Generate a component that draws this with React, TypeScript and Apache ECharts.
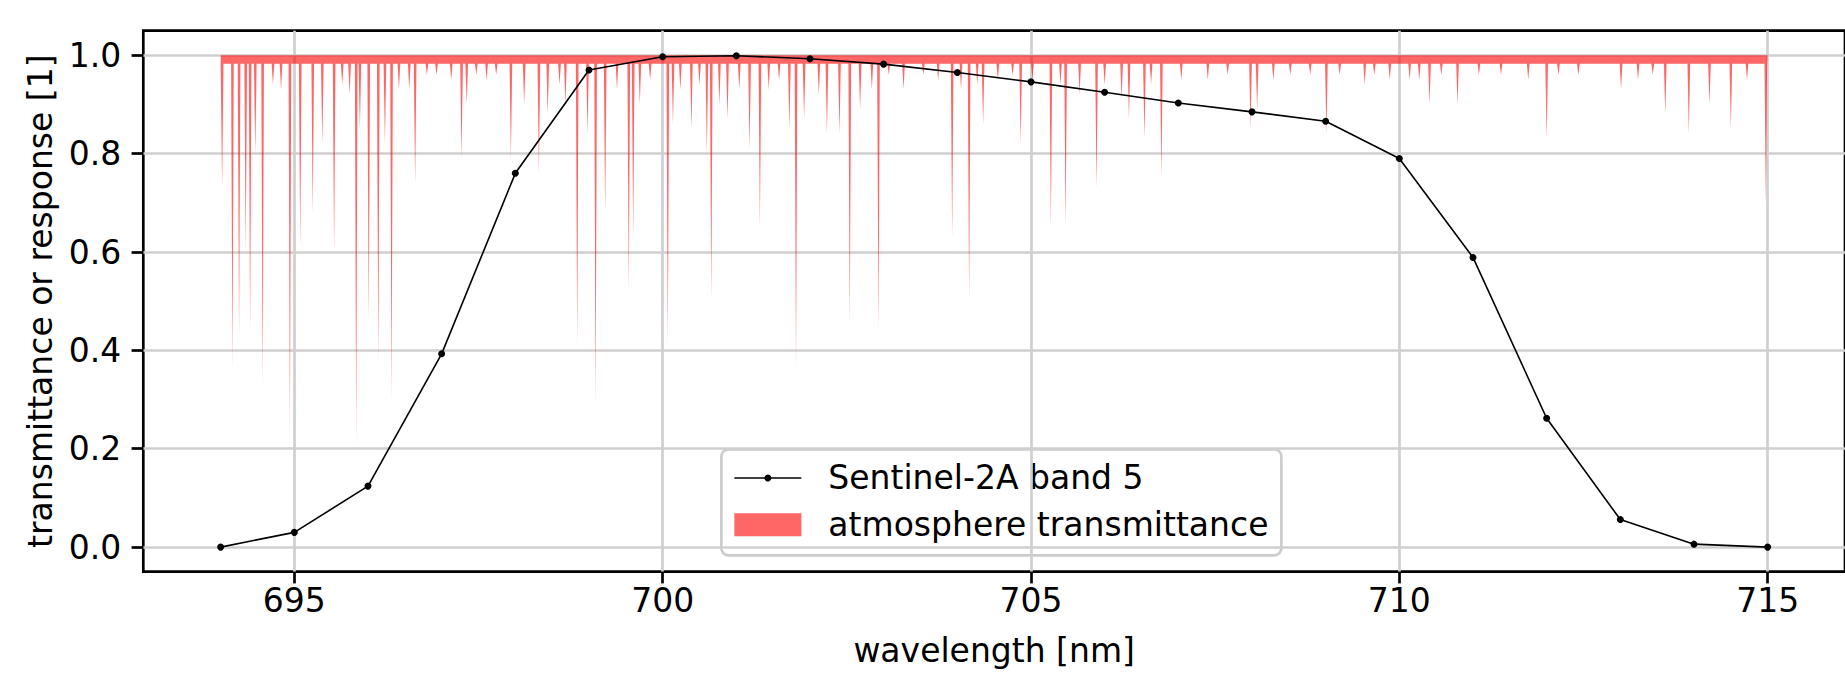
import React, { useEffect, useRef } from "react";
import * as echarts from "echarts";

// Sentinel-2A band 5 spectral response (sampled at 1 nm)
const bandWavelengths = [694, 695, 696, 697, 698, 699, 700, 701, 702, 703, 704, 705, 706, 707, 708, 709, 710, 711, 712, 713, 714, 715];
const bandResponse = [0.0, 0.03, 0.124, 0.393, 0.76, 0.97, 0.997, 0.999, 0.993, 0.982, 0.965, 0.946, 0.925, 0.903, 0.885, 0.866, 0.79, 0.589, 0.262, 0.056, 0.006, 0.0];

// Atmosphere transmittance: continuum level and absorption lines (centre nm, minimum transmittance)
const spectrumStart = 694.0;
const spectrumEnd = 715.0;
const continuum = 0.983;
const lineCenters = [
  694.02, 694.16, 694.25, 694.34, 694.4, 694.47, 694.57, 694.71, 694.82, 694.94,
  695.08, 695.25, 695.38, 695.54, 695.65, 695.75, 695.84, 695.89, 696.01, 696.14,
  696.23, 696.32, 696.42, 696.56, 696.64, 696.8, 696.93, 697.13, 697.27, 697.34,
  697.47, 697.61, 697.74, 697.94, 698.12, 698.32, 698.44, 698.6, 698.68, 698.84,
  698.98, 699.09, 699.22, 699.38, 699.54, 699.6, 699.69, 699.83, 700.07, 700.14,
  700.24, 700.39, 700.5, 700.6, 700.66, 700.77, 700.88, 701.04, 701.18, 701.32,
  701.44, 701.58, 701.72, 701.81, 701.92, 702.12, 702.23, 702.4, 702.54, 702.68,
  702.84, 702.93, 703.07, 703.27, 703.54, 703.74, 703.93, 704.05, 704.16, 704.27,
  704.35, 704.55, 704.75, 704.86, 705.02, 705.27, 705.4, 705.47, 705.66, 705.89,
  706.0, 706.23, 706.33, 706.54, 706.63, 706.77, 707.04, 707.4, 707.67, 707.98,
  708.07, 708.29, 708.52, 708.79, 709.01, 709.19, 709.53, 709.66, 709.87, 710.14,
  710.27, 710.41, 710.57, 710.79, 711.08, 711.38, 711.75, 712.0, 712.16, 712.43,
  713.01, 713.24, 713.44, 713.61, 713.93, 714.21, 714.5, 714.72, 714.975,
];
const lineMinima = [
  0.73, 0.36, 0.43, 0.6, 0.44, 0.8, 0.33, 0.94, 0.93, 0.23,
  0.61, 0.68, 0.82, 0.6, 0.94, 0.92, 0.21, 0.85, 0.46, 0.37,
  0.82, 0.3, 0.93, 0.93, 0.74, 0.96, 0.96, 0.95, 0.79, 0.9,
  0.96, 0.95, 0.96, 0.79, 0.9, 0.76, 0.88, 0.94, 0.9, 0.41,
  0.84, 0.29, 0.68, 0.93, 0.52, 0.63, 0.9, 0.95, 0.41, 0.86,
  0.93, 0.85, 0.94, 0.8, 0.5, 0.9, 0.87, 0.93, 0.81, 0.65,
  0.93, 0.95, 0.85, 0.36, 0.87, 0.92, 0.84, 0.84, 0.45, 0.89,
  0.93, 0.44, 0.96, 0.93, 0.96, 0.95, 0.63, 0.93, 0.5, 0.94,
  0.86, 0.95, 0.96, 0.82, 0.95, 0.65, 0.94, 0.65, 0.92, 0.73,
  0.94, 0.91, 0.87, 0.83, 0.94, 0.75, 0.95, 0.95, 0.96, 0.85,
  0.89, 0.95, 0.96, 0.96, 0.84, 0.96, 0.94, 0.96, 0.95, 0.95,
  0.95, 0.9, 0.96, 0.9, 0.96, 0.96, 0.95, 0.83, 0.96, 0.96,
  0.93, 0.95, 0.96, 0.88, 0.84, 0.9, 0.85, 0.95, 0.7,
];

const xTicks = [695, 700, 705, 710, 715];
const yTicks = [0, 0.2, 0.4, 0.6, 0.8, 1.0];

const FONT = "DejaVu Sans";
const LINE_HALF_WIDTH = 0.018;

export default function App() {
  const ref = useRef<HTMLDivElement>(null);

  useEffect(() => {
    document.body.style.margin = "0";
    if (!ref.current) return;
    const chart = echarts.init(ref.current, undefined, { renderer: "svg" });

    const transData: number[][] = [[spectrumStart, continuum]];
    lineCenters.forEach((c, i) => {
      transData.push([c - LINE_HALF_WIDTH, continuum], [c, lineMinima[i]], [c + LINE_HALF_WIDTH, continuum]);
    });
    transData.push([spectrumEnd, continuum]);

    const bandData = bandWavelengths.map((w, i) => [w, bandResponse[i]]);

    const textBase = { fontFamily: FONT, fontSize: 33, color: "#000" };

    chart.setOption({
      animation: false,
      backgroundColor: "#fff",
      grid: {
        left: 143.3,
        top: 30.7,
        width: 1714.6,
        height: 541,
        show: true,
        borderColor: "#000",
        borderWidth: 2.7,
        backgroundColor: "transparent",
      },
      xAxis: {
        type: "value",
        min: 692.95,
        max: 716.05,
        name: "wavelength [nm]",
        nameLocation: "middle",
        nameGap: 62,
        nameTextStyle: textBase,
        axisLine: { show: false, onZero: false },
        axisTick: {
          show: true,
          inside: false,
          length: 11.7,
          customValues: xTicks,
          lineStyle: { color: "#000", width: 2.7 },
        },
        axisLabel: {
          customValues: xTicks,
          margin: 12,
          ...textBase,
          formatter: (v: number) => String(Math.round(v)),
        },
        splitLine: { show: true, lineStyle: { color: "#cfcfcf", width: 2.7 } },
      },
      yAxis: {
        type: "value",
        min: -0.05,
        max: 1.05,
        name: "transmittance or response [1]",
        nameLocation: "middle",
        nameRotate: 90,
        nameGap: 86,
        nameTextStyle: textBase,
        axisLine: { show: false, onZero: false },
        axisTick: {
          show: true,
          inside: false,
          length: 11.7,
          customValues: yTicks,
          lineStyle: { color: "#000", width: 2.7 },
        },
        axisLabel: {
          customValues: yTicks,
          margin: 22,
          ...textBase,
          formatter: (v: number) => v.toFixed(1),
        },
        splitLine: { show: true, lineStyle: { color: "#cfcfcf", width: 2.7 } },
      },
      series: [
        {
          name: "atmosphere transmittance",
          type: "line",
          data: transData,
          symbol: "none",
          showSymbol: false,
          silent: true,
          lineStyle: { width: 0, opacity: 0 },
          areaStyle: { color: "#ff0000", opacity: 0.6, origin: 1 },
          z: 1,
        },
        {
          name: "Sentinel-2A band 5",
          type: "line",
          data: bandData,
          symbol: "circle",
          symbolSize: 7,
          itemStyle: { color: "#000" },
          lineStyle: { color: "#000", width: 1.6 },
          z: 3,
        },
      ],
      graphic: [
        {
          type: "group",
          left: 720,
          top: 448,
          z: 100,
          children: [
            {
              type: "rect",
              shape: { x: 0, y: 0, width: 560, height: 106, r: 7 },
              style: { fill: "rgba(255,255,255,0.8)", stroke: "#cccccc", lineWidth: 2.7 },
            },
            {
              type: "line",
              shape: { x1: 13, y1: 28.6, x2: 80, y2: 28.6 },
              style: { stroke: "#000", lineWidth: 1.6 },
            },
            {
              type: "circle",
              shape: { cx: 46.5, cy: 28.6, r: 3.5 },
              style: { fill: "#000" },
            },
            {
              type: "text",
              style: { text: "Sentinel-2A band 5", x: 107, y: 28.6, fontFamily: FONT, fontSize: 33, fill: "#000", verticalAlign: "middle", align: "left" },
            },
            {
              type: "rect",
              shape: { x: 13, y: 64, width: 67, height: 23 },
              style: { fill: "rgba(255,0,0,0.6)" },
            },
            {
              type: "text",
              style: { text: "atmosphere transmittance", x: 107, y: 75.6, fontFamily: FONT, fontSize: 33, fill: "#000", verticalAlign: "middle", align: "left" },
            },
          ],
        },
      ],
    });

    return () => chart.dispose();
  }, []);

  return <div ref={ref} style={{ position: "fixed", left: 0, top: 0, width: 1845, height: 682 }} />;
}
